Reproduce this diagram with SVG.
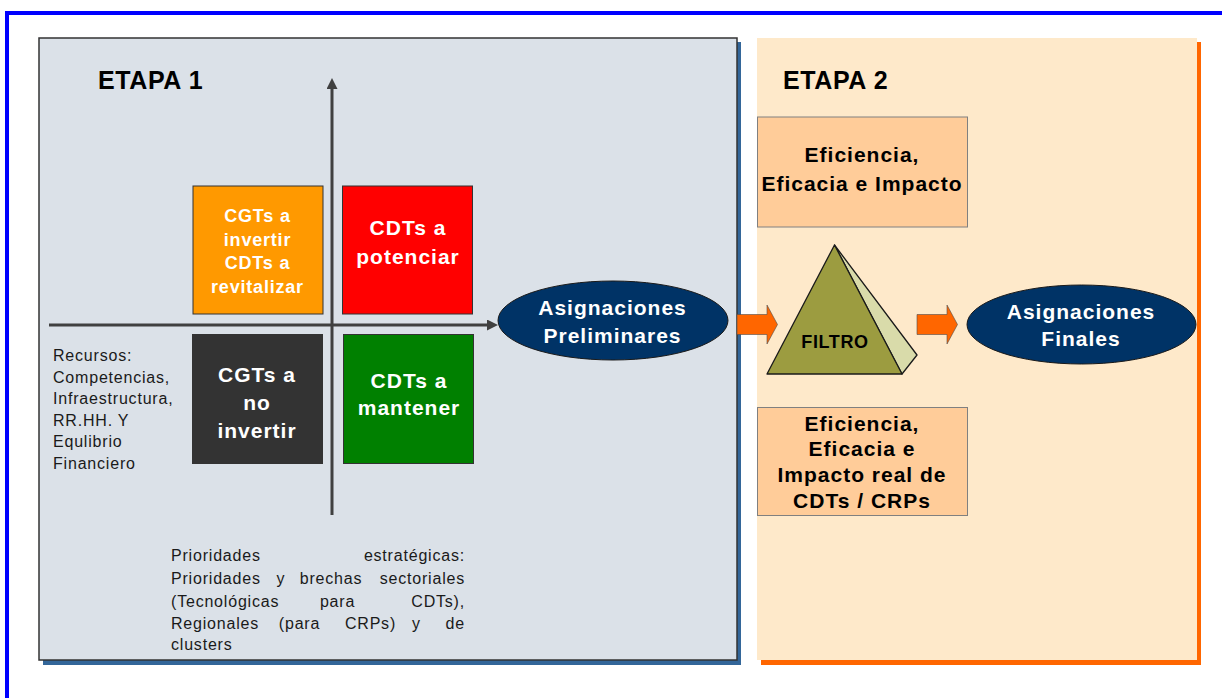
<svg xmlns="http://www.w3.org/2000/svg" width="1222" height="698" viewBox="0 0 1222 698">
<style>
  .b { font-family: "Liberation Sans", Arial, sans-serif; font-weight: bold; }
  .r { font-family: "Liberation Sans", Arial, sans-serif; font-weight: normal; }
  .wq { fill: #FFFFFF; font-size: 21px; letter-spacing: 1px; text-anchor: middle; }
  .wo { fill: #FFFFFF; font-size: 18px; letter-spacing: 0.8px; text-anchor: middle; }
  .el { fill: #FFFFFF; font-size: 21px; letter-spacing: 1px; text-anchor: middle; }
  .bx { fill: #000000; font-size: 21px; letter-spacing: 1px; text-anchor: middle; }
  .lt { fill: #1A1A1A; font-size: 16px; letter-spacing: 0.8px; }
  .ttl { fill: #000000; font-size: 25px; letter-spacing: 0.6px; }
  .qb { stroke: #333333; stroke-width: 1; }
  .axis { stroke: #404040; stroke-width: 3; fill: none; }
  .oarrow { fill: #FF6600; stroke: #4D4D4D; stroke-width: 0.6; }
  .ell { fill: #003366; stroke: #1A1A1A; stroke-width: 1; }
  .rb { fill: #FFCC99; stroke: #808080; stroke-width: 1; }
</style>
<defs>
  <marker id="ah" markerUnits="userSpaceOnUse" markerWidth="12" markerHeight="12" refX="0" refY="5.5" orient="auto">
    <path d="M0,0 L11,5.5 L0,11 Z" fill="#404040"/>
  </marker>
</defs>
<rect width="1222" height="698" fill="#FFFFFF"/>
<rect x="7" y="13" width="1240" height="720" fill="none" stroke="#0000FF" stroke-width="4"/>

<g id="etapa1">
  <rect x="43" y="42" width="698" height="623" fill="#336699"/>
  <rect x="39" y="38" width="698" height="622" fill="#DBE1E8" stroke="#333333" stroke-width="1.5"/>
  <text class="b ttl" x="98" y="89">ETAPA 1</text>
</g>

<g id="etapa2">
  <rect x="761" y="42" width="440" height="623" fill="#FF6600"/>
  <rect x="757" y="38" width="440" height="622" fill="#FEE9CA"/>
  <text class="b ttl" x="783" y="89">ETAPA 2</text>
</g>

<g id="connectors">
  <line class="axis" x1="332" y1="515" x2="332" y2="89" marker-end="url(#ah)"/>
  <line class="axis" x1="49" y1="325" x2="487" y2="325" marker-end="url(#ah)"/>
  <polygon class="oarrow" points="737,314.5 767,314.5 767,305 777.5,324.5 767,344 767,334.5 737,334.5"/>
  <polygon class="oarrow" points="917,314.5 947,314.5 947,305 957.5,324.5 947,344 947,334.5 917,334.5"/>
</g>

<g id="q-cgts-invertir">
  <rect class="qb" x="193" y="186" width="130" height="128" fill="#FF9900"/>
  <text class="b wo" x="257.5" y="222">CGTs a</text>
  <text class="b wo" x="257.5" y="245.5">invertir</text>
  <text class="b wo" x="257.5" y="269">CDTs a</text>
  <text class="b wo" x="257.5" y="292.5">revitalizar</text>
</g>

<g id="q-cdts-potenciar">
  <rect class="qb" x="342.5" y="186" width="130" height="128" fill="#FF0000"/>
  <text class="b wq" x="408" y="235">CDTs a</text>
  <text class="b wq" x="408" y="264">potenciar</text>
</g>

<g id="q-cgts-no-invertir">
  <rect class="qb" x="192.5" y="334.5" width="130" height="129" fill="#333333"/>
  <text class="b wq" x="257" y="382">CGTs a</text>
  <text class="b wq" x="257" y="410">no</text>
  <text class="b wq" x="257" y="438">invertir</text>
</g>

<g id="q-cdts-mantener">
  <rect class="qb" x="343.5" y="334.5" width="130" height="129" fill="#008000"/>
  <text class="b wq" x="409" y="387.5">CDTs a</text>
  <text class="b wq" x="409" y="415">mantener</text>
</g>

<g id="recursos">
  <text class="r lt" x="53" y="361">Recursos:</text>
  <text class="r lt" x="53" y="382.5">Competencias,</text>
  <text class="r lt" x="53" y="404">Infraestructura,</text>
  <text class="r lt" x="53" y="425.5">RR.HH. Y</text>
  <text class="r lt" x="53" y="447">Equlibrio</text>
  <text class="r lt" x="53" y="468.5">Financiero</text>
</g>

<g id="prioridades">
  <text class="r lt" x="171" y="561">Prioridades</text>
  <text class="r lt" x="465" y="561" text-anchor="end">estratégicas:</text>
  <text class="r lt" x="171" y="584">Prioridades</text>
  <text class="r lt" x="281" y="584" text-anchor="middle">y</text>
  <text class="r lt" x="331" y="584" text-anchor="middle">brechas</text>
  <text class="r lt" x="465" y="584" text-anchor="end">sectoriales</text>
  <text class="r lt" x="171" y="606.5">(Tecnológicas</text>
  <text class="r lt" x="337.5" y="606.5" text-anchor="middle">para</text>
  <text class="r lt" x="465" y="606.5" text-anchor="end">CDTs),</text>
  <text class="r lt" x="171" y="629">Regionales</text>
  <text class="r lt" x="299.5" y="629" text-anchor="middle">(para</text>
  <text class="r lt" x="370.5" y="629" text-anchor="middle">CRPs)</text>
  <text class="r lt" x="416.5" y="629" text-anchor="middle">y</text>
  <text class="r lt" x="465" y="629" text-anchor="end">de</text>
  <text class="r lt" x="171" y="650">clusters</text>
</g>

<g id="asig-preliminares">
  <ellipse class="ell" cx="613" cy="320.5" rx="115" ry="39.5"/>
  <text class="b el" x="612.5" y="315">Asignaciones</text>
  <text class="b el" x="612.5" y="342.5">Preliminares</text>
</g>

<g id="filtro">
  <polygon points="834.5,245 917,355 902,374" fill="#D9DBAA" stroke="#1A1A1A" stroke-width="1.3" stroke-linejoin="round"/>
  <polygon points="834.5,245 902,374 767,374" fill="#9C9C40" stroke="#1A1A1A" stroke-width="1.3" stroke-linejoin="round"/>
  <text class="b" x="835" y="347.5" font-size="18" letter-spacing="0.6" text-anchor="middle" fill="#000000">FILTRO</text>
</g>

<g id="asig-finales">
  <ellipse class="ell" cx="1081.5" cy="324.5" rx="114.5" ry="39.5"/>
  <text class="b el" x="1081" y="318.5">Asignaciones</text>
  <text class="b el" x="1081" y="346">Finales</text>
</g>

<g id="eficiencia-1">
  <rect class="rb" x="757.5" y="117" width="210" height="110"/>
  <text class="b bx" x="862" y="162">Eficiencia,</text>
  <text class="b bx" x="862" y="191">Eficacia e Impacto</text>
</g>

<g id="eficiencia-2">
  <rect class="rb" x="757.5" y="407.5" width="210" height="108"/>
  <text class="b bx" x="862" y="430.5">Eficiencia,</text>
  <text class="b bx" x="862" y="456">Eficacia e</text>
  <text class="b bx" x="862" y="482">Impacto real de</text>
  <text class="b bx" x="862" y="507.5">CDTs / CRPs</text>
</g>
</svg>
